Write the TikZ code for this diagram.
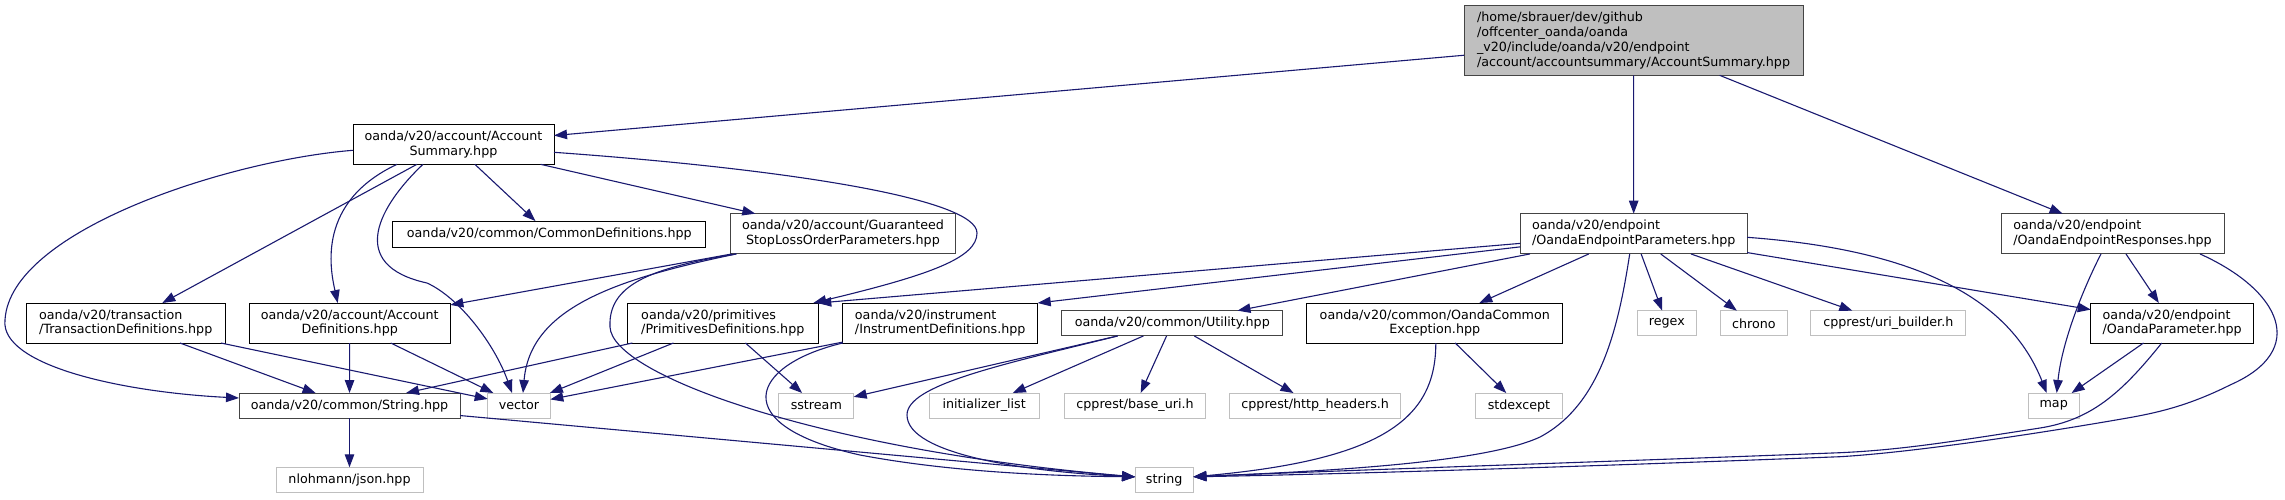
\documentclass[tikz,border=0pt]{standalone}
\usepackage{fontspec}
\setmainfont{DejaVu Sans}
\usetikzlibrary{arrows.meta}
\definecolor{edgeblue}{HTML}{191970}
\definecolor{docgray}{HTML}{444444}
\definecolor{sysgray}{HTML}{BFBFBF}
\definecolor{topgray}{HTML}{BFBFBF}
\newcommand\dxfont{\fontsize{12.7pt}{14.8pt}\selectfont}
\begin{document}
\begin{tikzpicture}[x=1pt,y=-1pt,
  box/.style={rectangle, draw=black, fill=white, line width=1pt, inner sep=0pt, outer sep=0pt, font=\dxfont, align=center},
  gbox/.style={box, draw=docgray},
  sys/.style={box, draw=sysgray, minimum height=25pt},
  edge/.style={draw=edgeblue, line width=1.1pt, -{Triangle[length=13pt,width=9.5pt]}, fill=none}]
\fill[white] (0,0) rectangle (2285,499);
\useasboundingbox (0,0) rectangle (2285,499);

% row 0
\node[gbox, fill=topgray, align=left, minimum width=339pt, minimum height=69.6pt] (T) at (1633.5,40.5)
  {/home/sbrauer/dev/github\\/offcenter\_oanda/oanda\\\_v20/include/oanda/v20/endpoint\\/account/accountsummary/AccountSummary.hpp};
% row 1
\node[box, minimum width=201pt, minimum height=40pt] (AS) at (453.5,144.3) {oanda/v20/account/Account\\Summary.hpp};
% row 2
\node[box, minimum width=312.7pt, minimum height=26pt] (CD) at (549.3,234) {oanda/v20/common/CommonDefinitions.hpp};
\node[gbox, minimum width=225.4pt, minimum height=40.3pt] (GSL) at (843,233.8) {oanda/v20/account/Guaranteed\\StopLossOrderParameters.hpp};
\node[gbox, align=left, minimum width=226.7pt, minimum height=40.3pt] (OEP) at (1633.7,233.8) {oanda/v20/endpoint\\/OandaEndpointParameters.hpp};
\node[gbox, align=left, minimum width=223pt, minimum height=40.3pt] (OER) at (2112.5,233.8) {oanda/v20/endpoint\\/OandaEndpointResponses.hpp};
% row 3
\node[box, align=left, minimum width=199.3pt, minimum height=40pt] (TD) at (125.7,323) {oanda/v20/transaction\\/TransactionDefinitions.hpp};
\node[box, minimum width=201.3pt, minimum height=40pt] (AD) at (349.7,323) {oanda/v20/account/Account\\Definitions.hpp};
\node[box, align=left, minimum width=191pt, minimum height=40pt] (Prim) at (722.8,323) {oanda/v20/primitives\\/PrimitivesDefinitions.hpp};
\node[box, align=left, minimum width=195pt, minimum height=40pt] (ID) at (940.2,323) {oanda/v20/instrument\\/InstrumentDefinitions.hpp};
\node[gbox, minimum width=221.3pt, minimum height=25.3pt] (Util) at (1172.3,323.3) {oanda/v20/common/Utility.hpp};
\node[box, minimum width=256.3pt, minimum height=40pt] (OCE) at (1434.8,323) {oanda/v20/common/OandaCommon\\Exception.hpp};
\node[sys, minimum width=59pt, minimum height=25.3pt] (regex) at (1666.8,323.3) {regex};
\node[sys, minimum width=67pt, minimum height=25.3pt] (chrono) at (1753.8,323.3) {chrono};
\node[sys, minimum width=154.7pt, minimum height=25.3pt] (uri) at (1888.3,323.3) {cpprest/uri\_builder.h};
\node[box, align=left, minimum width=163pt, minimum height=40pt] (OP) at (2172.2,323) {oanda/v20/endpoint\\/OandaParameter.hpp};
% row 4
\node[gbox, minimum width=221pt, minimum height=25pt] (String) at (349.5,405.5) {oanda/v20/common/String.hpp};
\node[sys, minimum width=62.6pt] (vector) at (519,405.5) {vector};
\node[sys, minimum width=74.7pt] (sstream) at (816.3,405.5) {sstream};
\node[sys, minimum width=110.3pt] (init) at (984.2,405.5) {initializer\_list};
\node[sys, minimum width=141.4pt] (baseuri) at (1135,405.5) {cpprest/base\_uri.h};
\node[sys, minimum width=171pt] (http) at (1315.2,405.5) {cpprest/http\_headers.h};
\node[sys, minimum width=86.6pt] (stdexcept) at (1519,405.5) {stdexcept};
\node[sys, minimum width=50.7pt] (map) at (2053.7,405.5) {map};
% row 5
\node[sys, minimum width=147pt] (json) at (349.5,479.8) {nlohmann/json.hpp};
\node[sys, minimum width=58.3pt] (string) at (1164.2,479.8) {string};

% straight edges
\draw[edge] (T) -- (AS);
\draw[edge] (T) -- (OEP);
\draw[edge] (T) -- (OER);
\draw[edge] (AS) -- (TD);
\draw[edge] (AS) -- (CD);
\draw[edge] (AS) -- (GSL);
\draw[edge] (TD) -- (String);
\draw[edge] (TD) -- (vector);
\draw[edge] (AD) -- (String);
\draw[edge] (AD) -- (vector);
\draw[edge] (String) -- (json);
\draw[edge] (String) -- (string);
\draw[edge] (GSL) -- (AD);
\draw[edge] (Prim) -- (String);
\draw[edge] (Prim) -- (vector);
\draw[edge] (Prim) -- (sstream);
\draw[edge] (ID) -- (vector);
\draw[edge] (OEP) -- (Prim.north east);
\draw[edge] (OEP) -- (ID.north east);
\draw[edge] (OEP) -- (Util);
\draw[edge] (OEP) -- (OCE);
\draw[edge] (OEP) -- (regex);
\draw[edge] (OEP) -- (chrono);
\draw[edge] (OEP) -- (uri);
\draw[edge] (OEP) -- (OP);
\draw[edge] (Util) -- (sstream);
\draw[edge] (Util) -- (init);
\draw[edge] (Util) -- (baseuri);
\draw[edge] (Util) -- (http);
\draw[edge] (OCE) -- (stdexcept);
\draw[edge] (OER) -- (OP);
\draw[edge] (OP) -- (map);

% curved edges
\draw[edge] ([yshift=-6pt]AS.west) .. controls (230,160) and (10,230) .. (5,320)
  .. controls (0,365) and (120,392) .. ([yshift=7.5pt]String.west);
\draw[edge] ([xshift=44pt]AS.south west) .. controls (317,202) and (330,268) .. ([xshift=-12pt]AD.north);
\draw[edge] ([xshift=70pt]AS.south west) .. controls (380,205) and (345,265) .. (427,283)
  .. controls (460,298) and (495,345) .. ([xshift=-7pt]vector.north);
\draw[edge] ([yshift=-8pt]AS.east) .. controls (800,170) and (977,200) .. (977,233)
  .. controls (977,258) and (930,275) .. ([xshift=-5pt]Prim.north east);
\draw[edge] ([xshift=6pt]GSL.south west) .. controls (610,280) and (530,310) .. ([xshift=4pt]vector.north);
\draw[edge] ([xshift=6pt]GSL.south west) .. controls (650,268) and (608,285) .. (610,327)
  .. controls (612,375) and (820,450) .. ([yshift=3pt]string.west);
\draw[edge] (ID.south west) .. controls (750,365) and (725,425) .. (860,455)
  .. controls (950,472) and (1050,476) .. ([yshift=3pt]string.west);
\draw[edge] ([xshift=56pt]Util.south west) .. controls (1000,365) and (907,385) .. (907,415)
  .. controls (907,455) and (1030,472) .. ([yshift=3pt]string.west);
\draw[edge] ([xshift=-4pt]OEP.south) .. controls (1618,330) and (1600,405) .. (1540,437)
  .. controls (1480,465) and (1300,472) .. ([yshift=3pt]string.east);
\draw[edge] ([xshift=1pt]OCE.south) .. controls (1436,420) and (1380,460) .. ([yshift=3pt]string.east);
\draw[edge] ([yshift=-3.5pt]OEP.east) .. controls (1920,250) and (2010,300) .. ([xshift=-7pt]map.north);
\draw[edge] ([xshift=-11.5pt]OER.south) .. controls (2085,285) and (2062,340) .. ([xshift=3pt]map.north);
\draw[edge] ([xshift=-24pt]OER.south east) .. controls (2280,290) and (2310,350) .. (2230,385)
  .. controls (2190,405) and (2160,412) .. (2133,417)
  .. controls (2060,430) and (1920,452) .. (1840,456.7)
  .. controls (1600,466) and (1350,474) .. ([yshift=3pt]string.east);
\draw[edge] ([xshift=-10.5pt]OP.south) .. controls (2120,395) and (2090,420) .. (2040,428)
  .. controls (1950,442) and (1900,450) .. (1840,452.7)
  .. controls (1600,462) and (1350,470) .. ([yshift=3pt]string.east);
\end{tikzpicture}
\end{document}
